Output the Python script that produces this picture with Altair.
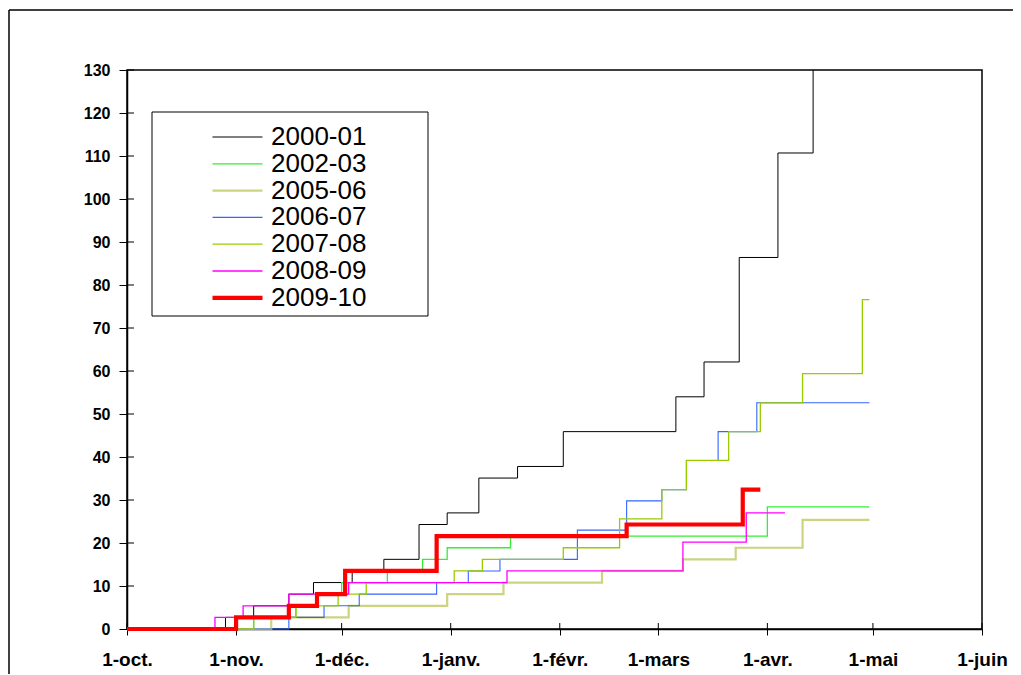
import altair as alt
import pandas as pd

# ---------------- data ----------------
seasons = ["2000-01", "2002-03", "2005-06", "2006-07", "2007-08", "2008-09", "2009-10"]
colors = ["#000000", "#33EE33", "#CCD480", "#3366FF", "#99CC00", "#FF00FF", "#FF0000"]
widths = [1.0, 1.3, 2.2, 1.1, 1.3, 1.3, 4.2]

d_2000 = ["10-01", "10-29", "11-06", "11-16", "11-23", "12-04", "12-13", "12-23", "12-31",
          "01-09", "01-20", "02-02", "03-06", "03-14", "03-24", "04-04", "04-14"]
v_2000 = [0, 2.7, 5.4, 8.1, 10.8, 13.5, 16.2, 24.3, 27.0, 35.1, 37.8, 45.9, 54.0, 62.1,
          86.4, 110.7, 130.0]

d_2002 = ["10-01", "11-06", "11-18", "11-24", "12-01", "12-14", "12-24", "12-31", "01-18",
          "04-01", "04-30"]
v_2002 = [0, 2.7, 5.4, 8.1, 10.8, 13.5, 16.2, 18.9, 21.6, 28.4, 28.4]

d_2005 = ["10-01", "11-11", "12-03", "12-31", "01-16", "02-13", "03-08", "03-23", "04-11",
          "04-30"]
v_2005 = [0, 2.7, 5.4, 8.1, 10.8, 13.5, 16.2, 18.9, 25.4, 25.4]

d_2006 = ["10-01", "11-16", "11-26", "12-06", "12-28", "01-06", "01-15", "02-06", "02-20",
          "03-02", "03-09", "03-18", "03-29", "04-30"]
v_2006 = [0, 2.7, 5.4, 8.1, 10.8, 13.5, 16.2, 23.0, 29.8, 32.4, 39.2, 45.9, 52.6, 52.6]

d_2007 = ["10-01", "11-06", "11-18", "11-30", "12-08", "01-02", "01-10", "02-02", "02-18",
          "03-02", "03-09", "03-21", "03-30", "04-11", "04-28", "04-30"]
v_2007 = [0, 2.7, 5.4, 8.1, 10.8, 13.5, 16.2, 18.9, 25.6, 32.4, 39.2, 45.9, 52.6, 59.4,
          76.6, 76.6]

d_2008 = ["10-01", "10-26", "11-03", "11-16", "12-03", "01-17", "03-08", "03-26", "04-06"]
v_2008 = [0, 2.7, 5.4, 8.1, 10.8, 13.5, 20.2, 27.0, 27.0]

d_2009 = ["10-01", "11-01", "11-16", "11-24", "12-02", "12-28", "02-20", "03-25", "03-30"]
v_2009 = [0, 2.7, 5.4, 8.1, 13.5, 21.6, 24.3, 32.4, 32.4]

month_ticks = ["2009-10-01", "2009-11-01", "2009-12-01", "2010-01-01", "2010-02-01",
               "2010-03-01", "2010-04-01", "2010-05-01", "2010-06-01"]
month_labels = ["1-oct.", "1-nov.", "1-déc.", "1-janv.", "1-févr.", "1-mars", "1-avr.",
                "1-mai", "1-juin"]
y_ticks = list(range(0, 131, 10))

# ---------------- build table ----------------
series = [d_2000, d_2002, d_2005, d_2006, d_2007, d_2008, d_2009]
values = [v_2000, v_2002, v_2005, v_2006, v_2007, v_2008, v_2009]


def to_date(md):
    m = int(md[:2])
    return f"{2009 if m >= 10 else 2010}-{md}"


rows = []
for s, ds, vs in zip(seasons, series, values):
    for i, (d, v) in enumerate(zip(ds, vs)):
        rows.append({"season": s, "date": to_date(d), "value": v, "idx": i})
df = pd.DataFrame(rows)


def dt(s):
    y, m, d = (int(p) for p in s.split("-"))
    return alt.DateTime(year=y, month=m, date=d, utc=True)


lab = [""] * 12
for t, l in zip(month_ticks, month_labels):
    lab[int(t[5:7]) - 1] = l
label_expr = "[" + ",".join("'" + l + "'" for l in lab) + "][utcmonth(datum.value)]"

W, H = 855, 559
FONT = "Liberation Sans"

xscale = alt.Scale(type="utc", domain=[dt(month_ticks[0]), dt(month_ticks[-1])])
yscale = alt.Scale(domain=[0, 130], nice=False, zero=True)

dummy = pd.DataFrame({"a": [0]})

legend_box = alt.Chart(dummy).mark_rect(fill="white", stroke="black", strokeWidth=1).encode(
    x=alt.value(25), x2=alt.value(301), y=alt.value(42), y2=alt.value(246)
)

outer_left = alt.Chart(dummy).mark_rule(color="black", strokeWidth=1.5).encode(
    x=alt.value(-118), y=alt.value(-60), y2=alt.value(H + 50)
)
outer_top = alt.Chart(dummy).mark_rule(color="black", strokeWidth=1.5).encode(
    x=alt.value(-118), x2=alt.value(W + 40), y=alt.value(-60)
)

ytick_df = pd.DataFrame({"v": y_ticks})
ytick_in = alt.Chart(ytick_df).mark_rule(color="black", strokeWidth=1).encode(
    y=alt.Y("v:Q", scale=yscale), x=alt.value(0), x2=alt.value(7)
)
xtick_df = pd.DataFrame({"t": month_ticks})
xtick_in = alt.Chart(xtick_df).mark_rule(color="black", strokeWidth=1).encode(
    x=alt.X("t:T", scale=xscale), y=alt.value(H - 6), y2=alt.value(H)
)

leg = alt.Legend(orient="none", legendX=83, legendY=55, title=None,
                 symbolType="stroke", symbolSize=2500, clipHeight=24,
                 labelFont=FONT, labelFontSize=26, labelOffset=6,
                 labelLimit=400, rowPadding=0.8, padding=0, labelColor="black",
                 symbolOpacity=1)

lines = alt.Chart(df).mark_line(interpolate="step-after").encode(
    x=alt.X("date:T", scale=xscale,
            axis=alt.Axis(values=[dt(t) for t in month_ticks], labelExpr=label_expr,
                          title=None, grid=False, labelFont=FONT, labelFontSize=19,
                          labelFontWeight="bold", labelColor="black", tickSize=6,
                          tickColor="black", domainColor="black", domainWidth=1.5,
                          labelPadding=15, labelFlush=False, labelOverlap=False)),
    y=alt.Y("value:Q", scale=yscale,
            axis=alt.Axis(values=y_ticks, title=None, grid=False, labelFont=FONT,
                          labelFontSize=16, labelFontWeight="bold", labelColor="black",
                          tickSize=8, tickColor="black", domainColor="black",
                          domainWidth=1.5, labelPadding=9, labelFlush=False,
                          labelOverlap=False)),
    color=alt.Color("season:O", sort=seasons,
                    scale=alt.Scale(domain=seasons, range=colors), legend=leg),
    strokeWidth=alt.StrokeWidth("season:O", sort=seasons,
                                scale=alt.Scale(type="ordinal", domain=seasons,
                                                range=widths),
                                legend=leg),
    order=alt.Order("idx:Q"),
)

chart = alt.layer(outer_left, outer_top, legend_box, ytick_in, xtick_in, lines).properties(
    width=W, height=H,
    padding={"left": 119, "top": 62, "right": 31, "bottom": 45},
    autosize=alt.AutoSizeParams(type="none"),
    background="white",
).configure_view(stroke="black", strokeWidth=1.5)

chart.save("out.html", embed_options={"renderer": "svg", "actions": False})
